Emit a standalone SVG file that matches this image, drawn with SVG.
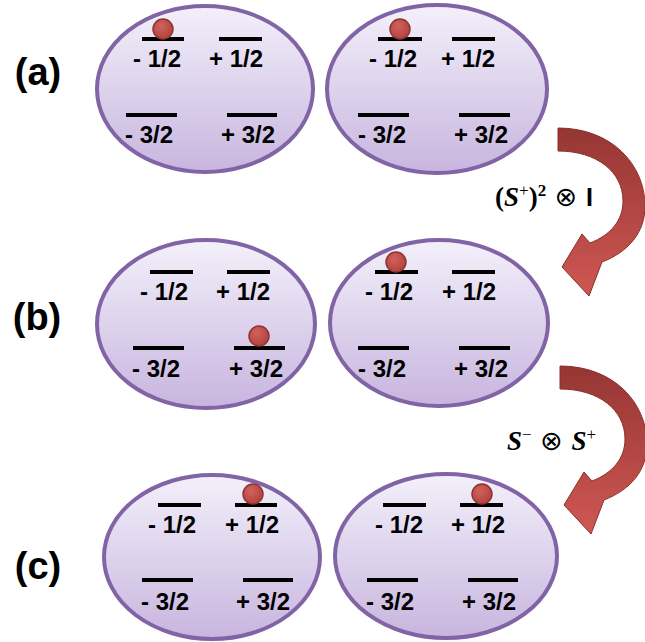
<svg xmlns="http://www.w3.org/2000/svg" xmlns:xlink="http://www.w3.org/1999/xlink" width="645" height="642" viewBox="0 0 645 642">
<defs>
<linearGradient id="eg" x1="0" y1="0" x2="0" y2="1">
<stop offset="0" stop-color="#f3f0fa"/>
<stop offset="1" stop-color="#c8b5df"/>
</linearGradient>
<radialGradient id="bg" cx="0.4" cy="0.35" r="0.7">
<stop offset="0" stop-color="#d0625e"/>
<stop offset="1" stop-color="#b2403c"/>
</radialGradient>
<linearGradient id="ag" x1="0" y1="0" x2="0" y2="1">
<stop offset="0" stop-color="#953633"/>
<stop offset="1" stop-color="#cf5753"/>
</linearGradient>
<path id="arrow" d="M558,128 C612,128 645,165 645,206 C645,233 628,252 602,262 L589,296 L562,267 L582,234 L590,243 C611,235 623,220 623,201 C623,172 597,151 558,151 Z"/>
</defs>
<style>
.ell{fill:url(#eg);stroke:#8064a6;stroke-width:4}
.bar{stroke:#000;stroke-width:4}
.ball{fill:url(#bg);stroke:#8e3532;stroke-width:1.5}
.lv{font-family:"Liberation Sans",Arial,sans-serif;font-weight:bold;font-size:24px;fill:#000;text-anchor:middle}
.tag{font-family:"Liberation Sans",Arial,sans-serif;font-weight:bold;font-size:38px;fill:#000;text-anchor:middle}
.arr{fill:url(#ag);stroke:#8a302d;stroke-width:1}
.m{font-family:"Liberation Serif","Times New Roman",serif;font-size:27px;fill:#000}
</style>

<g id="tags">
<text class="tag" x="38" y="85">(a)</text>
<text class="tag" x="37" y="330">(b)</text>
<text class="tag" x="38" y="579">(c)</text>
</g>

<g id="a-left">
<ellipse class="ell" cx="205" cy="89" rx="108" ry="83"/>
<line class="bar" x1="142" y1="39" x2="184" y2="39"/>
<line class="bar" x1="219" y1="39" x2="262" y2="39"/>
<line class="bar" x1="126" y1="115" x2="177" y2="115"/>
<line class="bar" x1="227" y1="115" x2="277" y2="115"/>
<circle class="ball" cx="163" cy="29" r="10"/>
<text class="lv" x="157" y="67">- 1/2</text>
<text class="lv" x="236" y="67">+ 1/2</text>
<text class="lv" x="149" y="143">- 3/2</text>
<text class="lv" x="248" y="143">+ 3/2</text>
</g>

<g id="a-right">
<ellipse class="ell" cx="437" cy="89" rx="110" ry="84"/>
<line class="bar" x1="378" y1="39" x2="422" y2="39"/>
<line class="bar" x1="452" y1="39" x2="495" y2="39"/>
<line class="bar" x1="358" y1="115" x2="409" y2="115"/>
<line class="bar" x1="459" y1="115" x2="510" y2="115"/>
<circle class="ball" cx="400" cy="29" r="10"/>
<text class="lv" x="393" y="67">- 1/2</text>
<text class="lv" x="468" y="67">+ 1/2</text>
<text class="lv" x="382" y="143">- 3/2</text>
<text class="lv" x="481" y="143">+ 3/2</text>
</g>

<g id="b-left">
<ellipse class="ell" cx="206" cy="324" rx="109" ry="84"/>
<line class="bar" x1="150" y1="272" x2="193" y2="272"/>
<line class="bar" x1="227" y1="272" x2="270" y2="272"/>
<line class="bar" x1="133" y1="348" x2="184" y2="348"/>
<line class="bar" x1="234" y1="348" x2="285" y2="348"/>
<circle class="ball" cx="259" cy="336" r="10"/>
<text class="lv" x="164" y="300">- 1/2</text>
<text class="lv" x="243" y="300">+ 1/2</text>
<text class="lv" x="156" y="377">- 3/2</text>
<text class="lv" x="256" y="377">+ 3/2</text>
</g>

<g id="b-right">
<ellipse class="ell" cx="439" cy="323" rx="109" ry="83"/>
<line class="bar" x1="375" y1="272" x2="418" y2="272"/>
<line class="bar" x1="452" y1="272" x2="495" y2="272"/>
<line class="bar" x1="358" y1="348" x2="409" y2="348"/>
<line class="bar" x1="459" y1="348" x2="510" y2="348"/>
<circle class="ball" cx="396" cy="262" r="10"/>
<text class="lv" x="389" y="300">- 1/2</text>
<text class="lv" x="469" y="300">+ 1/2</text>
<text class="lv" x="382" y="377">- 3/2</text>
<text class="lv" x="481" y="377">+ 3/2</text>
</g>

<g id="c-left">
<ellipse class="ell" cx="212" cy="557" rx="108" ry="82"/>
<line class="bar" x1="158" y1="505" x2="201" y2="505"/>
<line class="bar" x1="235" y1="505" x2="277" y2="505"/>
<line class="bar" x1="142" y1="580" x2="193" y2="580"/>
<line class="bar" x1="243" y1="580" x2="293" y2="580"/>
<circle class="ball" cx="253" cy="494" r="10"/>
<text class="lv" x="172" y="533">- 1/2</text>
<text class="lv" x="252" y="533">+ 1/2</text>
<text class="lv" x="165" y="610">- 3/2</text>
<text class="lv" x="263" y="610">+ 3/2</text>
</g>

<g id="c-right">
<ellipse class="ell" cx="446" cy="556" rx="111" ry="82"/>
<line class="bar" x1="383" y1="505" x2="426" y2="505"/>
<line class="bar" x1="460" y1="505" x2="503" y2="505"/>
<line class="bar" x1="367" y1="580" x2="418" y2="580"/>
<line class="bar" x1="468" y1="580" x2="518" y2="580"/>
<circle class="ball" cx="482" cy="494" r="10"/>
<text class="lv" x="399" y="533">- 1/2</text>
<text class="lv" x="478" y="533">+ 1/2</text>
<text class="lv" x="390" y="610">- 3/2</text>
<text class="lv" x="489" y="610">+ 3/2</text>
</g>

<g id="connectors">
<use xlink:href="#arrow" href="#arrow" class="arr"/>
<use xlink:href="#arrow" href="#arrow" class="arr" transform="translate(2,238)"/>
<text class="m" x="495" y="206"><tspan font-weight="bold">(</tspan><tspan font-weight="bold" font-style="italic">S</tspan><tspan font-size="17" dy="-10">+</tspan><tspan dy="10" font-weight="bold">)</tspan><tspan font-size="17" font-weight="bold" dy="-10">2</tspan><tspan dy="10" font-family="DejaVu Sans" font-size="27"> ⊗ </tspan><tspan font-family="Liberation Sans" font-weight="bold" font-size="25">I</tspan></text>
<text class="m" x="507" y="450"><tspan font-weight="bold" font-style="italic">S</tspan><tspan font-size="17" dy="-10">−</tspan><tspan dy="10" font-family="DejaVu Sans" font-size="27"> ⊗ </tspan><tspan font-weight="bold" font-style="italic">S</tspan><tspan font-size="17" dy="-10">+</tspan></text>
</g>
</svg>
